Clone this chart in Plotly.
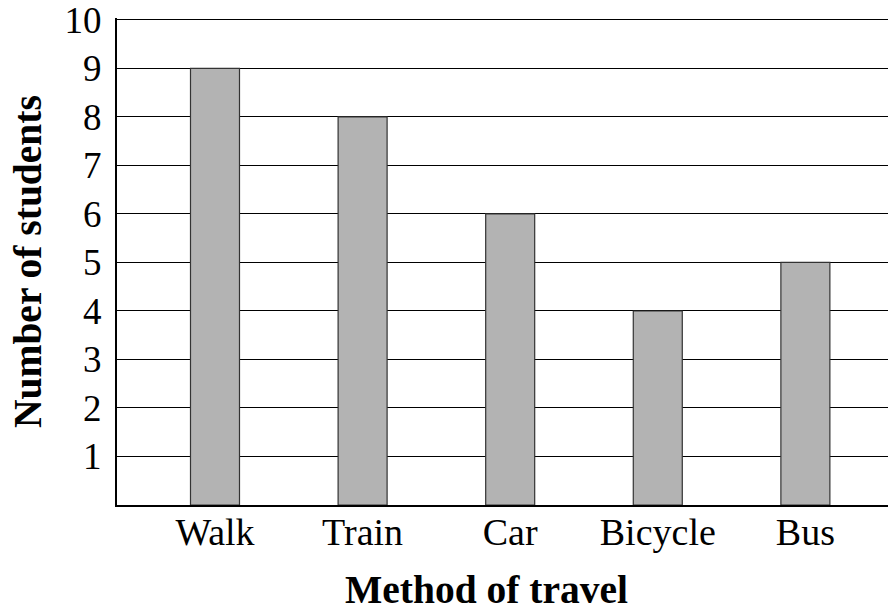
import plotly.graph_objects as go

methods = ["Walk", "Train", "Car", "Bicycle", "Bus"]
students = [9, 8, 6, 4, 5]
y_ticks = [1, 2, 3, 4, 5, 6, 7, 8, 9, 10]

FONT = "Liberation Serif"

# page has an 8px body margin; figure sized to fit the window
W, H = 888, 605
Y_TOP = 10.04
L, T, B = 109, 10, 108
PW, PH = W - L, H - T - B

fig = go.Figure()
fig.add_trace(go.Bar(
    x=list(range(len(methods))),
    y=students,
    width=0.332,
    marker=dict(color="#b3b3b3", line=dict(color="#333333", width=1.2)),
    hoverinfo="skip",
))

fig.update_layout(
    width=W, height=H,
    margin=dict(l=L, r=0, t=T, b=B, autoexpand=False),
    paper_bgcolor="white", plot_bgcolor="white",
    showlegend=False,
    font=dict(family=FONT, color="black", size=37),
    xaxis=dict(
        range=[-0.664, 4.614],
        tickvals=list(range(len(methods))),
        ticktext=methods,
        showgrid=False, zeroline=False,
        showline=True, linecolor="black", linewidth=2,
        ticks="", ticklabelstandoff=-8,
        tickfont=dict(family=FONT, size=38),
        automargin=False,
    ),
    yaxis=dict(
        range=[0, Y_TOP],
        tickvals=y_ticks,
        showgrid=True, gridcolor="black", gridwidth=1,
        zeroline=False,
        showline=True, linecolor="black", linewidth=2,
        ticks="", ticklabelstandoff=6,
        ticklabeloverflow="allow",
        tickfont=dict(family=FONT, size=37),
        automargin=False,
    ),
    annotations=[
        dict(text="<b>Method of travel</b>", xref="paper", yref="paper",
             x=(478 - L) / PW, y=(T + PH - 582) / PH, xanchor="center", yanchor="middle",
             showarrow=False, font=dict(family=FONT, size=39.5, color="black")),
        dict(text="<b>Number of students</b>", xref="paper", yref="paper",
             x=(20 - L) / PW, y=(T + PH - 254) / PH, xanchor="center", yanchor="middle",
             textangle=-90, showarrow=False, font=dict(family=FONT, size=39.5, color="black")),
    ],
)

fig.write_html("out.html")
